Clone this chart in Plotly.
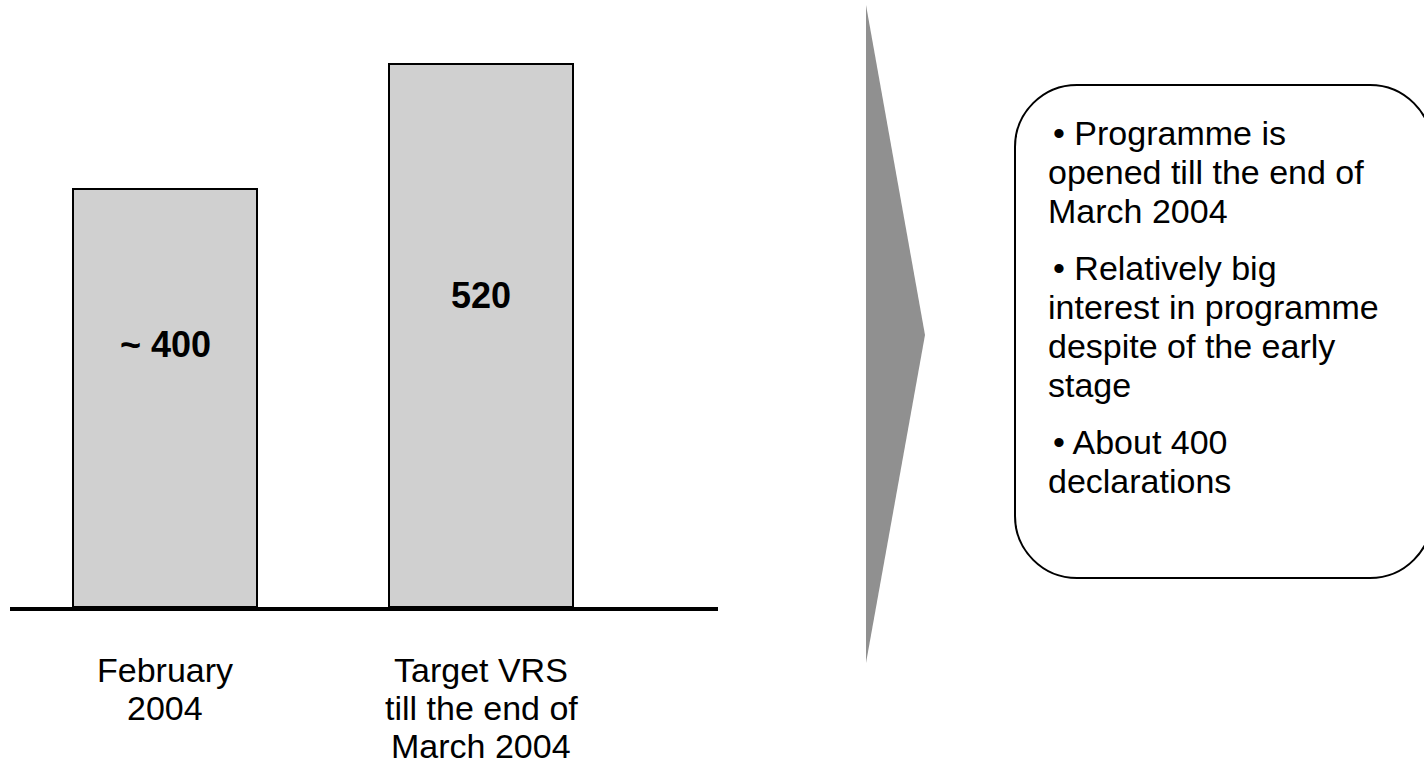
import plotly.graph_objects as go

W, H = 1424, 783

categories = ["February 2004", "Target VRS till the end of March 2004"]
category_lines = [["February", "2004"], ["Target VRS", "till the end of", "March 2004"]]
values = [400, 520]
bar_labels = ["~ 400", "520"]
label_values = [251, 298]
bullets = [
    ["\u2022 Programme is", "opened till the end of", "March 2004"],
    ["\u2022 Relatively big", "interest in programme", "despite of the early", "stage"],
    ["\u2022 About 400", "declarations"],
]

FONT = "Arial, 'Liberation Sans', sans-serif"

def px(x):
    return x / W

def py(y):
    return 1 - y / H

x_pos = [0, 1]
fig = go.Figure()
fig.add_trace(go.Bar(
    x=x_pos, y=values, width=0.585,
    marker=dict(color="#d0d0d0", line=dict(color="black", width=2)),
    hoverinfo="skip", showlegend=False,
))

annotations = []
for xv, lab, lv in zip(x_pos, bar_labels, label_values):
    annotations.append(dict(x=xv, y=lv, xref="x", yref="y", text="<b>%s</b>" % lab,
                            showarrow=False, font=dict(family=FONT, size=36, color="black"),
                            xanchor="center", yanchor="middle"))

line_gap = 38
for xv, lines in zip(x_pos, category_lines):
    for i, t in enumerate(lines):
        annotations.append(dict(x=xv, y=py(670 + i * line_gap), xref="x", yref="paper", text=t,
                                showarrow=False, font=dict(family=FONT, size=34, color="black"),
                                xanchor="center", yanchor="middle"))

y0 = 133
for group in bullets:
    for j, t in enumerate(group):
        x = 1051 if j == 0 else 1046
        annotations.append(dict(x=px(x), y=py(y0), xref="paper", yref="paper", text=t,
                                showarrow=False, font=dict(family=FONT, size=34, color="black"),
                                xanchor="left", yanchor="middle"))
        y0 += 39
    y0 += 18

# chevron arrow
tri = "M %f,%f L %f,%f L %f,%f Z" % (px(866), py(5), px(925), py(335), px(866), py(663))

# rounded callout box (circular corners via cubic Bezier)
L, T, R, B, r = 1015, 85, 1432, 578, 62
k = 0.5523 * r
def P(x, y):
    return "%f,%f" % (px(x), py(y))
box = " ".join([
    "M", P(L + r, T), "L", P(R - r, T),
    "C", P(R - r + k, T), P(R, T + r - k), P(R, T + r),
    "L", P(R, B - r),
    "C", P(R, B - r + k), P(R - r + k, B), P(R - r, B),
    "L", P(L + r, B),
    "C", P(L + r - k, B), P(L, B - r + k), P(L, B - r),
    "L", P(L, T + r),
    "C", P(L, T + r - k), P(L + r - k, T), P(L + r, T), "Z",
])

shapes = [
    dict(type="path", path=tri, xref="paper", yref="paper", fillcolor="#909090", line=dict(width=0)),
    dict(type="path", path=box, xref="paper", yref="paper", fillcolor="rgba(0,0,0,0)",
         line=dict(color="black", width=2)),
]

fig.update_layout(
    width=W, height=H, margin=dict(l=0, r=0, t=0, b=0),
    paper_bgcolor="white", plot_bgcolor="white",
    xaxis=dict(domain=[10 / W, 718 / W], range=[-0.4905, 1.75], showline=True, linecolor="black",
               linewidth=4, showticklabels=False, showgrid=False, zeroline=False, ticks=""),
    yaxis=dict(domain=[176 / H, 1], range=[0, 581.4], visible=False, showgrid=False),
    annotations=annotations, shapes=shapes, bargap=0,
)
fig.write_html("out.html")
